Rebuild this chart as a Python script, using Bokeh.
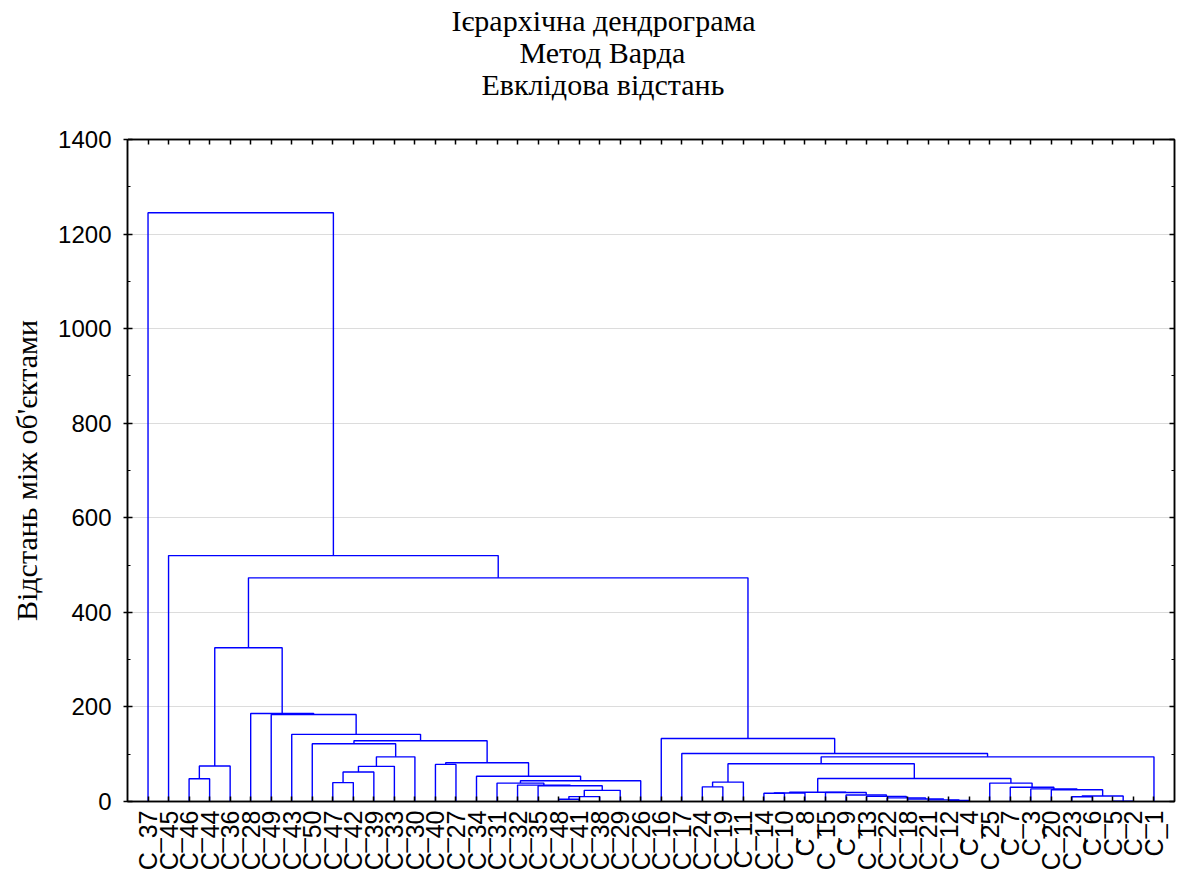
import math
from bokeh.plotting import figure
from bokeh.models import FixedTicker, SingleIntervalTicker, LinearAxis, Range1d, Title
from bokeh.embed import file_html
from bokeh.resources import INLINE

# ---- data -------------------------------------------------------------
title_lines = ["Ієрархічна дендрограма", "Метод Варда", "Евклідова відстань"]
y_axis_label = "Відстань між об'єктами"

leaf_labels = ["C_37", "C_45", "C_46", "C_44", "C_36", "C_28", "C_49", "C_43", "C_50", "C_47",
               "C_42", "C_39", "C_33", "C_30", "C_40", "C_27", "C_34", "C_31", "C_32", "C_35",
               "C_48", "C_41", "C_38", "C_29", "C_26", "C_16", "C_17", "C_24", "C_19", "C_11",
               "C_14", "C_10", "C_8", "C_15", "C_9", "C_13", "C_22", "C_18", "C_21", "C_12",
               "C_4", "C_25", "C_7", "C_3", "C_20", "C_23", "C_6", "C_5", "C_2", "C_1"]

# merges: "#k" refers to the k-th merge, otherwise a leaf label
merge_left = ["C_46", "#0", "C_47", "#2", "#3", "#4", "C_50", "C_40", "C_48", "#8",
              "#9", "C_35", "C_32", "C_31", "#13", "C_34", "#7", "#6", "C_43", "C_49",
              "C_28", "#1",
              "C_24", "#22", "C_14", "#24", "C_12", "C_21", "C_18", "C_22",
              "C_13", "C_9", "C_15", "#25", "C_23", "C_5", "#34", "C_20", "C_3", "C_7",
              "C_25", "#33", "#23", "#42", "C_17", "C_16",
              "#21", "C_45", "C_37"]
merge_right = ["C_44", "C_36", "C_42", "C_39", "C_33", "C_30", "#5", "C_27", "C_41", "C_38",
               "C_29", "#10", "#11", "#12", "C_26", "#14", "#15", "#16", "#17", "#18",
               "#19", "#20",
               "C_19", "C_11", "C_10", "C_8", "C_4", "#26", "#27", "#28",
               "#29", "#30", "#31", "#32", "C_6", "C_2", "#35", "#36", "#37", "#38",
               "#39", "#40", "#41", "C_1", "#43", "#44",
               "#45", "#46", "#47"]
merge_height = [48, 75, 40, 62.5, 74.3, 94.4, 122, 78.5, 4.9, 10.4,
                23.6, 33.3, 34.7, 38.9, 43.75, 53.4, 82, 128.5, 142, 184,
                186, 325,
                31, 41, 17.4, 18.1, 2.0, 3.5, 5.3, 7.6,
                10.8, 13.6, 19.0, 19.6, 10.2, 0.8, 11.6, 25.0, 26.6, 30.0,
                38.9, 48.6, 79.9, 94.4, 101.4, 133.3,
                473, 520, 1245]

y_ticks = [0, 200, 400, 600, 800, 1000, 1200, 1400]

# ---- build dendrogram segments from the merge table -------------------
leaf_pos = {name: i + 1 for i, name in enumerate(leaf_labels)}
node_x, node_h = [], []
xs, ys = [], []


def resolve(ref):
    if ref.startswith("#"):
        k = int(ref[1:])
        return node_x[k], node_h[k]
    return leaf_pos[ref], 0.0


for l, r, h in zip(merge_left, merge_right, merge_height):
    xl, hl = resolve(l)
    xr, hr = resolve(r)
    xs.append([xl, xl, xr, xr])
    ys.append([hl, h, h, hr])
    node_x.append((xl + xr) / 2.0)
    node_h.append(h)

# ---- figure -----------------------------------------------------------
W, H = 1176, 873
MB_L, MB_R, MB_T, MB_B = 127, 2, 139, 69

p = figure(width=W, height=H, output_backend="svg", toolbar_location=None, title=None,
           x_range=Range1d(0, len(leaf_labels) + 1), y_range=Range1d(y_ticks[0], y_ticks[-1]),
           min_border_left=MB_L, min_border_right=MB_R, min_border_top=MB_T, min_border_bottom=MB_B)
p.background_fill_color = "white"
p.border_fill_color = "white"
p.outline_line_color = "black"
p.outline_line_width = 1.5

p.multi_line(xs=xs, ys=ys, line_color="#0000ff", line_width=1.4)

p.xgrid.visible = False
p.ygrid.ticker = FixedTicker(ticks=y_ticks)
p.ygrid.grid_line_color = "#dcdcdc"
p.ygrid.grid_line_width = 1

leaf_ticks = list(range(1, len(leaf_labels) + 1))
overrides = {i: name for i, name in zip(leaf_ticks, leaf_labels)}

# bottom axis
xa = p.xaxis[0]
xa.ticker = FixedTicker(ticks=leaf_ticks, minor_ticks=[])
xa.major_label_overrides = overrides
xa.major_label_orientation = math.pi / 2
xa.major_label_text_font = "Liberation Sans"
xa.major_label_text_font_size = "25px"
xa.major_label_text_color = "black"
xa.major_label_standoff = 9
xa.major_tick_in = 5
xa.major_tick_out = 0
xa.major_tick_line_color = "black"
xa.major_tick_line_width = 1.5
xa.axis_line_color = "black"
xa.axis_line_width = 1.5

# left axis
ya = p.yaxis[0]
ya.ticker = SingleIntervalTicker(interval=200, num_minor_ticks=2)
ya.major_label_text_font = "Liberation Sans"
ya.major_label_text_font_size = "24px"
ya.major_label_text_color = "black"
ya.major_label_standoff = 12
ya.major_tick_in = 5
ya.major_tick_out = 4
ya.minor_tick_in = 3
ya.minor_tick_out = 0
ya.major_tick_line_color = "black"
ya.minor_tick_line_color = "black"
ya.major_tick_line_width = 1.5
ya.axis_line_color = "black"
ya.axis_line_width = 1.5
ya.axis_label = y_axis_label
ya.axis_label_text_font = "Liberation Serif"
ya.axis_label_text_font_style = "normal"
ya.axis_label_text_font_size = "30px"
ya.axis_label_text_color = "black"
ya.axis_label_standoff = 12

# top axis (ticks only, labels not drawn)
ta = LinearAxis(ticker=FixedTicker(ticks=leaf_ticks, minor_ticks=[]),
                major_label_text_font_size="0px", major_label_text_color=None, major_label_standoff=0,
                major_tick_in=5, major_tick_out=0, major_tick_line_width=1.5,
                axis_line_color="black", axis_line_width=1.5)
p.add_layout(ta, "above")

# spacer between the frame and the title block (a white tick at the frame corner)
spacer = LinearAxis(ticker=FixedTicker(ticks=[0], minor_ticks=[]),
                    major_label_text_font_size="0px", major_label_text_color=None, major_label_standoff=0,
                    major_tick_in=0, major_tick_out=40, minor_tick_in=0, minor_tick_out=0,
                    major_tick_line_color="white", major_tick_line_width=1,
                    minor_tick_line_color=None, axis_line_color=None)
p.add_layout(spacer, "above")

# right axis (ticks only, labels not drawn)
ra = LinearAxis(ticker=SingleIntervalTicker(interval=200, num_minor_ticks=2),
                major_label_text_font_size="0px", major_label_text_color=None, major_label_standoff=0,
                major_tick_in=5, major_tick_out=0, minor_tick_in=3, minor_tick_out=0,
                major_tick_line_width=1.5, axis_line_color="black", axis_line_width=1.5)
p.add_layout(ra, "right")

# title lines: added from the frame outward
title_font_size = 30
title_offsets = [324, 392, 354]
for txt, off in reversed(list(zip(title_lines, title_offsets))):
    p.add_layout(Title(text=txt, align="left", offset=off, standoff=-3,
                       text_font="Liberation Serif", text_font_style="normal",
                       text_font_size=f"{title_font_size}px", text_color="black"), "above")

open("out.html", "w").write(file_html(p, INLINE))
